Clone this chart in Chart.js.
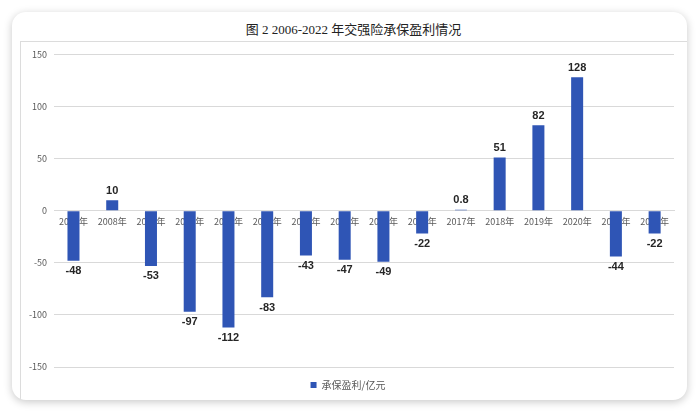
<!DOCTYPE html>
<html>
<head>
<meta charset="utf-8">
<script src="https://cdn.jsdelivr.net/npm/chart.js@4"></script>
<style>
    body { margin: 0; background: #fff; width: 700px; height: 413px; overflow: hidden; }
    #card {
        position: absolute; left: 12px; top: 12px; width: 675px; height: 388px;
        background: #fff; border-radius: 14px; overflow: hidden;
        box-shadow: 0 2px 9px rgba(0, 0, 0, 0.22);
    }
    #title {
        position: absolute; left: 8px; right: 0; top: 7px; text-align: center;
        font: 13px "Liberation Serif", "Noto Sans CJK SC", serif; color: #222;
    }
    #panel {
        position: absolute; left: 8px; top: 29px; right: 0; bottom: 0;
        border-left: 1px solid #dcdcdc; border-top: 1px solid #dcdcdc;
    }
    canvas { display: block; }
</style>
</head>
<body>
<div id="card">
    <div id="title">图 2 2006-2022 年交强险承保盈利情况</div>
    <div id="panel"><canvas id="chart" width="666" height="358"></canvas></div>
</div>
<script>
const years = ['2006年', '2008年', '2009年', '2010年', '2011年', '2012年', '2013年', '2014年',
    '2015年', '2016年', '2017年', '2018年', '2019年', '2020年', '2021年', '2022年'];
const profit = [-48, 10, -53, -97, -112, -83, -43, -47, -49, -22, 0.8, 51, 82, 128, -44, -22];
const seriesName = '承保盈利/亿元';
const yTicks = [-150, -100, -50, 0, 50, 100, 150];

const barColor = '#2f55b5';
const chart = document.getElementById('chart');

// value labels above / below each bar
const valueLabels = {
    id: 'valueLabels',
    afterDatasetsDraw: (c) => {
        const ctx = c.ctx;
        const meta = c.getDatasetMeta(0);
        ctx.save();
        ctx.font = 'bold 11px "Liberation Sans", Arial, sans-serif';
        ctx.fillStyle = '#262626';
        ctx.textAlign = 'center';
        meta.data.forEach((bar, i) => {
            const v = profit[i];
            if (v >= 0) {
                ctx.textBaseline = 'bottom';
                ctx.fillText(String(v), bar.x, bar.y - 4);
            } else {
                ctx.textBaseline = 'top';
                ctx.fillText(String(v), bar.x, bar.y + 5);
            }
        });
        ctx.restore();
    }
};

new Chart(chart.getContext('2d'), {
    type: 'bar',
    data: {
        labels: years,
        datasets: [{
            label: seriesName,
            data: profit,
            backgroundColor: barColor,
            categoryPercentage: 1,
            barPercentage: 0.31,
        }],
    },
    options: {
        responsive: false,
        animation: false,
        layout: { padding: { left: 1, right: 13, top: 7, bottom: 0 } },
        plugins: {
            legend: {
                position: 'bottom',
                labels: {
                    boxWidth: 6, boxHeight: 6, padding: 13,
                    color: '#595959',
                    font: { size: 10, family: '"Noto Sans CJK SC", sans-serif' },
                },
            },
            tooltip: { enabled: false },
        },
        scales: {
            x: {
                position: { y: 0 },
                grid: { display: false, drawTicks: false },
                border: { color: '#d9d9d9' },
                ticks: {
                    padding: 5, color: '#595959', maxRotation: 0, autoSkip: false,
                    font: { size: 9, family: '"Noto Sans CJK SC", sans-serif' },
                },
            },
            y: {
                min: -150, max: 150,
                afterBuildTicks: (axis) => { axis.ticks = yTicks.map(v => ({ value: v })); },
                grid: { color: '#d9d9d9', drawTicks: false },
                border: { display: false },
                ticks: {
                    padding: 7, color: '#595959',
                    font: { size: 9, family: '"Noto Sans CJK SC", sans-serif' },
                },
            },
        },
    },
    plugins: [valueLabels],
});
</script>
</body>
</html>
